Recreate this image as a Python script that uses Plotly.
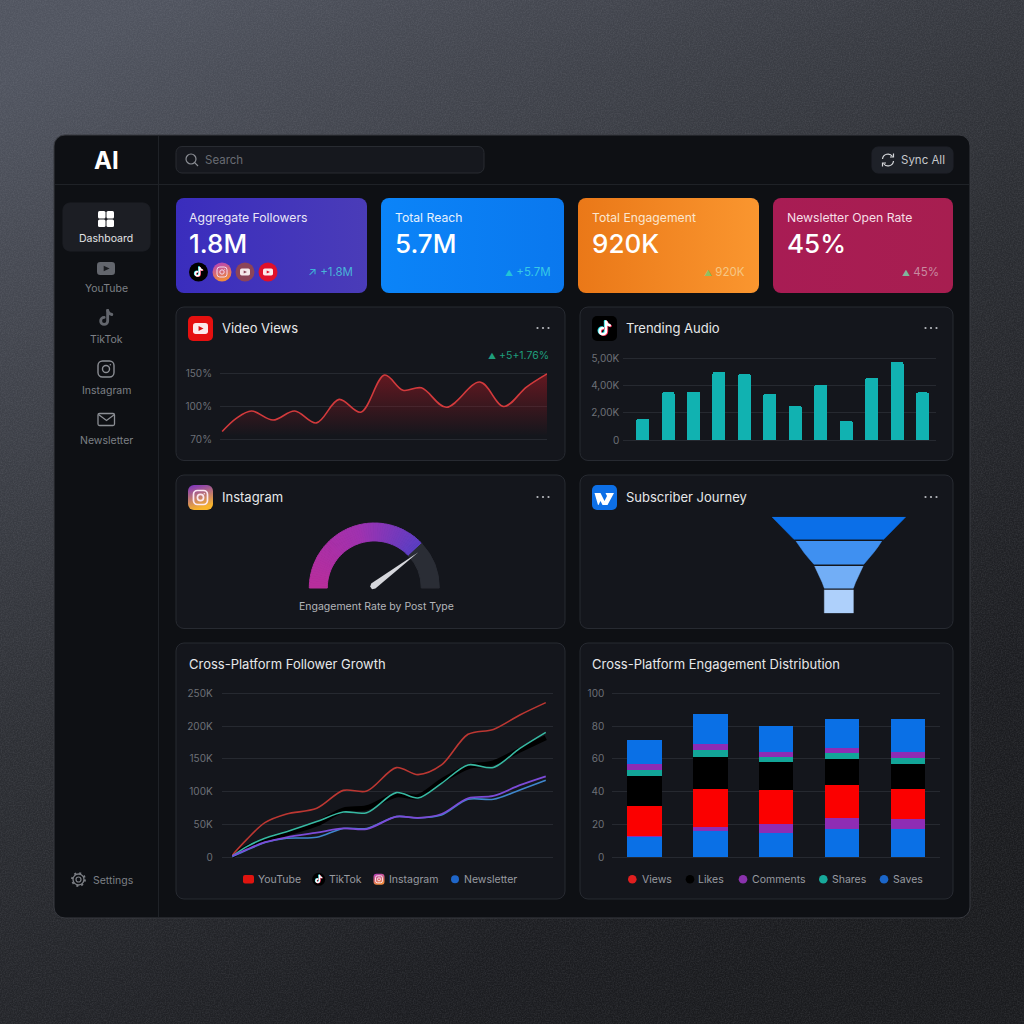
"""Social media dashboard rebuilt as one Plotly figure, positioned in page pixels."""

import base64

import plotly.graph_objects as go

SIZE = 1024
FONT = "Inter"

# Video Views: the axis labels are evenly spaced, so values sit on that even scale
views_day = [0, 1.3, 2.7, 4.7, 6.7, 8.7, 10.8, 12.8, 15, 16.7, 18.4, 20.7, 23.8, 26, 28.1, 30]
views_value = [79, 95, 104, 93, 104, 89.5, 118, 102.5, 147.5, 129, 132, 108.5, 139, 109.4, 133, 149]
views_ticks = [70, 110, 150]
views_labels = ["70%", "100%", "150%"]

# Trending Audio
audio_track = list(range(12))
audio_value = [1556, 3531, 3556, 5037, 4864, 3432, 2543, 4074, 1407, 4593, 5778, 3506]
audio_ticks = [0, 2000, 4000, 6000]
audio_labels = ["0", "2,00K", "4,00K", "5,00K"]

# Instagram gauge
gauge_value = 76

# Subscriber Journey: depth down the funnel and full width at that depth, in %
funnel_depths = [[0, 23.4], [25.1, 31, 37, 43, 49.2], [51, 56, 62, 68, 74], [75.7, 100]]
funnel_widths = [[100, 67], [64, 58.5, 52, 45, 37.2], [36.2, 32.5, 28.6, 24.8, 21.6], [21.6, 21.6]]

# Cross-Platform Follower Growth, values in thousands
growth_week = [0, 2.4, 5.4, 9, 14, 18.4, 22.3, 27.2, 30.8, 34.7, 39.1, 43.3, 47.7, 52]
growth_youtube = [3.6, 27.4, 52.8, 66, 74.7, 102, 101, 136.7, 126, 140.8, 187.5, 195, 217, 235.8]
growth_tiktok = [2, 15, 26.4, 36.6, 50.8, 72, 75.5, 95, 92.5, 116, 138, 144, 163.6, 182.4]
growth_teal = [2, 16.3, 29, 39, 54.4, 69, 68, 98.6, 90.4, 112.8, 140.8, 137, 166, 190.5]
growth_instagram = [2, 12, 23, 30.5, 37.6, 44, 43, 62, 60, 66, 90, 93.5, 110, 123.5]
growth_newsletter = [1, 11, 22.4, 29, 30.5, 44, 44, 62, 60, 64.5, 88.4, 88.4, 102.6, 117.4]
growth_ticks = [0, 50, 100, 150, 200, 250]
growth_labels = ["0", "50K", "100K", "150K", "200K", "250K"]

# Cross-Platform Engagement Distribution, segments from the bottom of each bar up
stack_bars = [0, 1, 2, 3, 4]
stack_saves_low = [12.6, 16, 15, 17, 17]
stack_comments_low = [0.5, 2.7, 5.5, 7, 6.6]
stack_views = [18.4, 23, 20.8, 20.3, 18.1]
stack_likes = [18.3, 19.5, 16.8, 15.9, 15.4]
stack_shares = [3.5, 4, 3.3, 3.6, 3.5]
stack_comments_high = [3.6, 4.1, 3, 3.1, 3.4]
stack_saves_high = [14.4, 17.9, 15.7, 17.7, 20.6]
stack_ticks = [0, 20, 40, 60, 80, 100]


def px_x(x):
    return x / SIZE


def px_y(y):
    return 1 - y / SIZE


def uri(svg):
    return "data:image/svg+xml;base64," + base64.b64encode(svg.encode()).decode()


def card(x0, y0, x1, y1, fill="#14161c", stroke="#272a31", r=8):
    return (
        f'<rect x="{x0}" y="{y0}" width="{x1 - x0}" height="{y1 - y0}" rx="{r}" '
        f'fill="{fill}" stroke="{stroke}"/>'
    )


def grad(name, c0, c1, x2=1, y2=0):
    return (
        f'<linearGradient id="{name}" x1="0" y1="0" x2="{x2}" y2="{y2}">'
        f'<stop offset="0" stop-color="{c0}"/><stop offset="1" stop-color="{c1}"/></linearGradient>'
    )


def youtube(cx, cy, w, h, body, play):
    return (
        f'<rect x="{cx - w / 2}" y="{cy - h / 2}" width="{w}" height="{h}" rx="{h / 4}" fill="{body}"/>'
        f'<path d="M{cx - w * .13} {cy - h * .22}L{cx + w * .2} {cy}L{cx - w * .13} {cy + h * .22}Z" fill="{play}"/>'
    )


def note(cx, cy, s, color):
    k = s / 24
    return (
        f'<g transform="translate({cx - 12 * k} {cy - 12 * k}) scale({k})" fill="none" stroke="{color}" '
        'stroke-width="3.4" stroke-linecap="round">'
        '<path d="M14 3v12.500a4.200 4.200 0 1 1-4.200-4.200"/><path d="M14 3c.6 2.800 2.400 4.400 5 4.800"/></g>'
    )


def tiktok(cx, cy, s):
    return note(cx - s * .05, cy - s * .03, s, "#25e0e6") + note(cx + s * .05, cy + s * .03, s, "#f0254f") + note(cx, cy, s, "#ffffff")


def insta(cx, cy, s, color, w=1.4):
    return (
        f'<rect x="{cx - s / 2}" y="{cy - s / 2}" width="{s}" height="{s}" rx="{s * .28}" fill="none" stroke="{color}" stroke-width="{w}"/>'
        f'<circle cx="{cx}" cy="{cy}" r="{s * .22}" fill="none" stroke="{color}" stroke-width="{w}"/>'
        f'<circle cx="{cx + s * .27}" cy="{cy - s * .27}" r="{s * .05}" fill="{color}"/>'
    )


def dots(cx, cy):
    return "".join(f'<circle cx="{cx + d}" cy="{cy}" r="1.100" fill="#b9bbc0"/>' for d in (-5.500, 0, 5.500))


background = f"""<svg xmlns="http://www.w3.org/2000/svg" width="{SIZE}" height="{SIZE}" viewBox="0 0 {SIZE} {SIZE}">
<defs>
<linearGradient id="page" x1="0.15" y1="0" x2="0.72" y2="1">
<stop offset="0" stop-color="#50545f"/><stop offset="0.15" stop-color="#454851"/><stop offset="0.5" stop-color="#2c2e33"/><stop offset="0.85" stop-color="#1c1d21"/><stop offset="1" stop-color="#1a1b1e"/>
</linearGradient>
<filter id="grain"><feTurbulence type="fractalNoise" baseFrequency="0.75" numOctaves="3"/>
<feColorMatrix values="0 0 0 0 0.6 0 0 0 0 0.62 0 0 0 0 0.68 0.55 0 0 0 -0.18"/></filter>
{grad("c1", "#3a2dbd", "#4a3cb8")}
{grad("c2", "#0b84f8", "#0a78ee")}
{grad("c3", "#ea7818", "#fa962f")}
{grad("c4", "#a81c54", "#a71e50")}
</defs>
<rect width="{SIZE}" height="{SIZE}" fill="url(#page)"/>
<rect width="{SIZE}" height="{SIZE}" filter="url(#grain)" opacity="0.35"/>
{card(54, 135, 970, 918, "#0e1014", "#383a40", 11)}
<path d="M158.500 136V917M55 184.500H969" stroke="#1f2227" fill="none"/>
{card(176, 146.500, 484, 173, "#16181e", "#282b31", 6)}
{card(872, 147, 953, 173, "#1e2128", "#1e2128", 6)}
{card(63, 203, 150, 251, "#1c1e24", "#1c1e24", 7)}
{card(176, 198, 367, 293, "url(#c1)", "none")}
{card(381, 198, 564, 293, "url(#c2)", "none")}
{card(578, 198, 759, 293, "url(#c3)", "none")}
{card(773, 198, 953, 293, "url(#c4)", "none")}
{card(176, 307, 565, 460.500)}
{card(580, 307, 953, 460.500)}
{card(176, 475, 565, 628.500)}
{card(580, 475, 953, 628.500)}
{card(176, 643, 565, 899)}
{card(580, 643, 953, 899)}
</svg>"""

icons = f"""<svg xmlns="http://www.w3.org/2000/svg" width="{SIZE}" height="{SIZE}" viewBox="0 0 {SIZE} {SIZE}">
<defs>
{grad("ig", "#7a2fc4", "#f9b52b", 0.3, 1)}
{grad("igdot", "#b23cc0", "#f08a3c", 0.3, 1)}
</defs>
<g fill="#ffffff"><rect x="98" y="211" width="7.500" height="7.500" rx="1.500"/><rect x="106.500" y="211" width="7.500" height="7.500" rx="1.500"/>
<rect x="98" y="219.500" width="7.500" height="7.500" rx="1.500"/><rect x="106.500" y="219.500" width="7.500" height="7.500" rx="1.500"/></g>
{youtube(106, 268.500, 18, 13, "#63666d", "#1a1c20")}
{note(106, 318, 20, "#63666d")}
{insta(106, 369, 16, "#8b8e94")}
<rect x="98" y="413.500" width="16.500" height="12" rx="1.500" fill="none" stroke="#8b8e94" stroke-width="1.300"/>
<path d="M98.500 414.500l8 6 8-6" fill="none" stroke="#8b8e94" stroke-width="1.300"/>
<circle cx="78.500" cy="879.500" r="2.500" fill="none" stroke="#7c7f85" stroke-width="1.200"/>
<circle cx="78.500" cy="879.500" r="5.500" fill="none" stroke="#7c7f85" stroke-width="1.300"/>
<circle cx="78.500" cy="879.500" r="6.500" fill="none" stroke="#7c7f85" stroke-width="1.800" stroke-dasharray="2 3.100"/>
<circle cx="191" cy="159" r="5" fill="none" stroke="#8b8e94" stroke-width="1.200"/>
<path d="M194.700 162.700l3.300 3.300" stroke="#8b8e94" stroke-width="1.200"/>
<path d="M882.500 159a5.500 5.500 0 0 1 10-2.500M893.500 161a5.500 5.500 0 0 1-10 2.500" fill="none" stroke="#d5d7da" stroke-width="1.200"/>
<path d="M893.500 153.500v3.500h-3.500M882.500 166.500v-3.500h3.500" fill="none" stroke="#d5d7da" stroke-width="1.200"/>
<circle cx="198.500" cy="272" r="9.500" fill="#000"/>{tiktok(198.500, 272, 12)}
<circle cx="222" cy="272" r="9.500" fill="url(#igdot)"/>{insta(222, 272, 10, "#f4dcef", 1)}
<circle cx="245" cy="272" r="9.500" fill="#8c4458"/>{youtube(245, 272, 10, 7, "#f5e8ea", "#8c4458")}
<circle cx="268" cy="272" r="9.500" fill="#e0102a"/>{youtube(268, 272, 10, 7, "#fbeaea", "#e0102a")}
<rect x="188" y="316" width="25" height="25" rx="5" fill="#e5100f"/>{youtube(200.500, 328.500, 15, 11, "#fbeaea", "#d81010")}
<rect x="592" y="316" width="25" height="25" rx="5" fill="#000"/>{tiktok(604.500, 328.500, 18)}
<rect x="188" y="485" width="25" height="25" rx="6" fill="url(#ig)"/>{insta(200.500, 497.500, 14, "#fbe7f2", 1.700)}
<rect x="592" y="485" width="25" height="25" rx="5" fill="#0d6fe6"/>
<path d="M594.500 493h6l4 8 2.500-5-1.500-3h8.500l-6.500 12h-5l-2-4-2 4h-.5z" fill="#ffffff"/>
{dots(543, 328)}{dots(931, 328)}{dots(543, 497)}{dots(931, 497)}
<rect x="243" y="875" width="11" height="8.500" rx="2" fill="#e0140f"/>
<circle cx="318.700" cy="879.300" r="6.500" fill="#000"/>{tiktok(318.700, 879.300, 10)}
<rect x="373.500" y="873.800" width="11" height="11" rx="3" fill="url(#igdot)"/>{insta(379, 879.300, 7, "#fbe7f2", 0.9)}
<circle cx="455" cy="879.300" r="4" fill="#1f66c9"/>
<circle cx="632.300" cy="879.300" r="4.300" fill="#e11f1f"/>
<circle cx="690" cy="879.300" r="4.300" fill="#000"/>
<circle cx="743" cy="879.300" r="4.300" fill="#8a32ad"/>
<circle cx="823.300" cy="879.300" r="4.300" fill="#17a99b"/>
<circle cx="884" cy="879.300" r="4.300" fill="#1b66c9"/>
</svg>"""

fig = go.Figure()


def add_axes(n, x_px, y_px, x_range, y_range, tickvals=None, ticktext=None, ticklen=0):
    """Place a hidden x axis and a gridded y axis on a pixel box of the page."""
    fig.update_layout({
        f"xaxis{n}": dict(
            domain=[px_x(x_px[0]), px_x(x_px[1])], range=x_range, anchor=f"y{n}", automargin=False,
            showgrid=False, zeroline=False, showticklabels=False, fixedrange=True,
        ),
        f"yaxis{n}": dict(
            domain=[px_y(y_px[1]), px_y(y_px[0])], range=y_range, anchor=f"x{n}", automargin=False,
            showgrid=tickvals is not None, gridcolor="#262930", gridwidth=1,
            zeroline=False, tickmode="array", tickvals=tickvals or [], ticktext=ticktext,
            showticklabels=tickvals is not None, ticks="outside", ticklen=ticklen,
            tickcolor="rgba(0,0,0,0)", tickfont=dict(family=FONT, size=10, color="#6d7077"),
            fixedrange=True,
        ),
    })


# Each y box is padded by 2 px so the first and last gridlines are kept
add_axes(2, (220, 547), (371, 441), [-0.2, 30], [67.58, 152.42], views_ticks, views_labels, 5)
fig.add_trace(go.Scatter(
    x=views_day, y=views_value, xaxis="x2", yaxis="y2", mode="lines",
    line=dict(color="#d23a3c", width=1.6, shape="spline", smoothing=1.0),
    fill="tozeroy",
    fillgradient=dict(
        type="vertical", start=74, stop=150,
        colorscale=[[0, "rgba(150,25,35,0)"], [1, "rgba(150,25,35,0.62)"]],
    ),
))

add_axes(3, (623.3, 936), (356.7, 442), [-0.76, 11.53], [-147, 6147], audio_ticks, audio_labels, 1)
fig.add_trace(go.Bar(
    x=audio_track, y=audio_value, xaxis="x3", yaxis="y3",
    marker=dict(color="#11b2b1", line_width=0, cornerradius=2), width=0.51,
))

# Gauge: the filled part is split in slices only to get a colour gradient
gauge_steps = 60
gauge_stops = [(0.0, (184, 46, 156)), (0.55, (160, 50, 176)), (1.0, (92, 62, 196))]


def gauge_colour(t):
    for (t0, c0), (t1, c1) in zip(gauge_stops, gauge_stops[1:]):
        if t <= t1:
            k = (t - t0) / (t1 - t0)
            r, g, b = [round(a + (d - a) * k) for a, d in zip(c0, c1)]
            return f"rgb({r},{g},{b})"
    return "rgb(92,62,196)"


gauge_colours = [gauge_colour(i / (gauge_steps - 1)) for i in range(gauge_steps)]
fig.add_trace(go.Pie(
    values=[gauge_value / gauge_steps] * gauge_steps + [100 - gauge_value, 100],
    marker=dict(
        colors=gauge_colours + ["#2a2d35", "rgba(0,0,0,0)"],
        line=dict(color=gauge_colours + ["#2a2d35", "rgba(0,0,0,0)"], width=1),
    ),
    hole=0.723, sort=False, direction="clockwise", rotation=270,
    textinfo="none", hoverinfo="skip", showlegend=False,
    domain=dict(x=[px_x(309.3), px_x(439.3)], y=[px_y(653), px_y(523)]),
))

add_axes(4, (771.7, 906), (516.7, 613.3), [-50, 50], [100, 0])
funnel_colours = ["#0b6fe8", "#3f90f1", "#72aef6", "#aed0fb"]
for depths, widths, colour in zip(funnel_depths, funnel_widths, funnel_colours):
    half = [w / 2 for w in widths]
    fig.add_trace(go.Scatter(
        x=[-h for h in half] + half[::-1], y=depths + depths[::-1],
        xaxis="x4", yaxis="y4", mode="lines", fill="toself", fillcolor=colour,
        line=dict(color=colour, width=0.5),
    ))

add_axes(5, (221.7, 553), (691.3, 859.3), [-1.77, 53.2], [-3.05, 253.05], growth_ticks, growth_labels, 6)
for values, colour, width in [
    (growth_tiktok, "#000000", 5),
    (growth_youtube, "#bc3732", 1.6),
    (growth_teal, "#37b8a2", 1.6),
    (growth_newsletter, "#3f86cc", 1.6),
    (growth_instagram, "#7c4bd8", 1.8),
]:
    fig.add_trace(go.Scatter(
        x=growth_week, y=values, xaxis="x5", yaxis="y5", mode="lines",
        line=dict(color=colour, width=width, shape="spline", smoothing=0.9),
    ))

add_axes(6, (612.3, 940), (691.3, 859.3), [-0.485, 4.485], [-1.22, 101.22], stack_ticks, [str(t) for t in stack_ticks], 5)
for values, colour in [
    (stack_saves_low, "#0a70e6"),
    (stack_comments_low, "#8e2cb4"),
    (stack_views, "#fb0000"),
    (stack_likes, "#000000"),
    (stack_shares, "#12a598"),
    (stack_comments_high, "#8e2cb4"),
    (stack_saves_high, "#0a70e6"),
]:
    fig.add_trace(go.Bar(
        x=stack_bars, y=values, xaxis="x6", yaxis="y6", width=0.526,
        marker=dict(color=colour, line_width=0),
    ))


def label(x, y, text, size=10.5, color="#8b8e94", anchor="left", weight=400):
    fig.add_annotation(
        x=px_x(x), y=px_y(y), xref="paper", yref="paper", text=text, showarrow=False,
        xanchor=anchor, yanchor="middle", align=anchor,
        font=dict(family=FONT, size=size, color=color, weight=weight),
        borderpad=0, borderwidth=0,
    )


def tri(color):
    return f'<span style="color:{color};font-size:8px">▲</span> '


label(106, 160, "AI", 24, "#ffffff", "center", 700)
label(106, 238, "Dashboard", 10.5, "#e2e3e6", "center")
for side_y, side_text in [(288, "YouTube"), (339, "TikTok"), (390, "Instagram"), (440, "Newsletter")]:
    label(106, side_y, side_text, 10.5, "#7d8086", "center")
label(93, 880, "Settings", 10.5, "#7d8086")
label(205, 160, "Search", 11.5, "#696c73")
label(901, 160, "Sync All", 11.5, "#c6c8cc")

label(189, 217.5, "Aggregate Followers", 12.2, "#e9e7f7")
label(189, 243, "1.8M", 26, "#ffffff", weight=500)
label(353, 272, '<span style="color:#3fb2d8">↗</span> +1.8M', 11.5, "#49b4d8", "right")
label(395, 217.5, "Total Reach", 12.2, "#e6f1fe")
label(395, 243, "5.7M", 26, "#ffffff", weight=500)
label(551, 272, tri("#22c4d8") + "+5.7M", 11.5, "#38c9e6", "right")
label(592, 217.5, "Total Engagement", 12.2, "#fbe6cf")
label(592, 243, "920K", 26, "#ffffff", weight=500)
label(745, 272, tri("#8fbf62") + "920K", 11.5, "#f6c784", "right")
label(787, 217.5, "Newsletter Open Rate", 12.2, "#f6dfe6")
label(787, 243, "45%", 26, "#ffffff", weight=500)
label(939, 272, tri("#7fb59c") + "45%", 11.5, "#c88aa0", "right")

label(222, 328, "Video Views", 13, "#e6e8ea")
label(549, 355, tri("#1f9e7c") + "+5+1.76%", 10.5, "#1f9e7c", "right")
label(626, 328, "Trending Audio", 13, "#e6e8ea")
label(222, 497, "Instagram", 13, "#e6e8ea")
label(376, 606, "Engagement Rate by Post Type", 10.5, "#b4b6bb", "center")
label(626, 497, "Subscriber Journey", 13, "#e6e8ea")
label(189, 664, "Cross-Platform Follower Growth", 13, "#e6e8ea")
label(592, 664, "Cross-Platform Engagement Distribution", 13, "#e6e8ea")

for leg_x, leg_text in [(258.3, "YouTube"), (329, "TikTok"), (388.7, "Instagram"), (463.7, "Newsletter"),
                        (641.7, "Views"), (698.3, "Likes"), (752, "Comments"), (832, "Shares"), (893, "Saves")]:
    label(leg_x, 879.5, leg_text, 10.5, "#989ba1")

fig.update_layout(
    width=SIZE, height=SIZE, margin=dict(l=0, r=0, t=0, b=0),
    paper_bgcolor="#26282d", plot_bgcolor="rgba(0,0,0,0)",
    showlegend=False, barmode="stack", hovermode=False,
    images=[
        dict(source=uri(background), xref="paper", yref="paper", x=0, y=1, sizex=1, sizey=1,
             xanchor="left", yanchor="top", sizing="stretch", layer="below"),
        dict(source=uri(icons), xref="paper", yref="paper", x=0, y=1, sizex=1, sizey=1,
             xanchor="left", yanchor="top", sizing="stretch", layer="above"),
    ],
)

# Needle of the gauge, light and tapering towards the tip
fig.add_shape(
    type="path", xref="paper", yref="paper", layer="above", line_width=0, fillcolor="#d6d7dc",
    path=(
        f"M{px_x(418.3)},{px_y(552.3)} L{px_x(375.4)},{px_y(588.4)} L{px_x(372.0)},{px_y(589.2)} "
        f"L{px_x(370.2)},{px_y(586.6)} L{px_x(371.2)},{px_y(583.4)} Z"
    ),
)

fig.write_html(
    "out.html",
    config={"displayModeBar": False},
    post_script="document.body.style.margin='0';document.documentElement.style.overflow='hidden';",
)
